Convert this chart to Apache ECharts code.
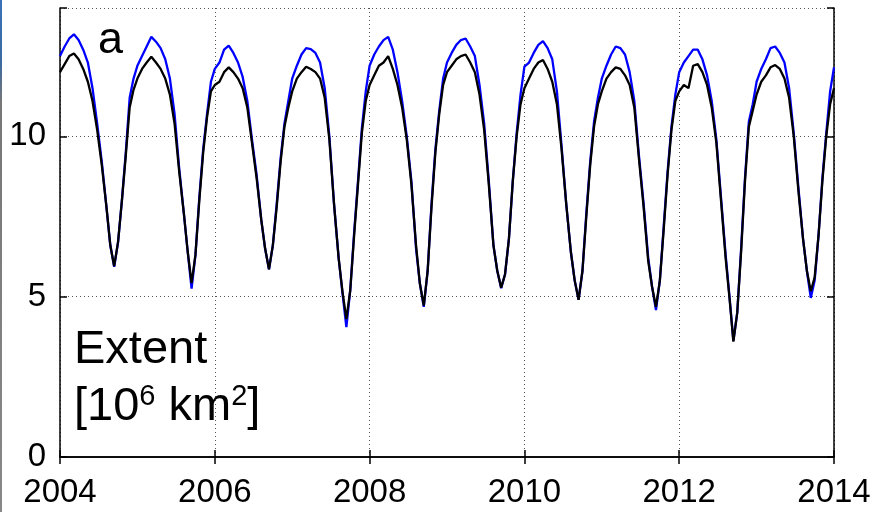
<!DOCTYPE html>
<html>
<head>
<meta charset="utf-8">
<script src="https://cdn.jsdelivr.net/npm/echarts@6/dist/echarts.min.js"></script>
<style>
html,body{margin:0;padding:0;background:#fff;}
#chart{width:880px;height:512px;}
</style>
</head>
<body>
<div id="chart"></div>
<script>
// Sample phase within each year (fraction of year)
const phases = [0, .06, .12, .18, .24, .30, .36, .42, .48, .54, .60, .65, .70, .75, .80, .85, .90, .95];
const years = [2004, 2005, 2006, 2007, 2008, 2009, 2010, 2011, 2012, 2013];
const xTicks = [2004, 2006, 2008, 2010, 2012, 2014];
const yTicks = [0, 5, 10];

// Blue series (per year, values at phases)
const blueByYear = [
  [12.5, 12.8, 13.05, 13.18, 13.0, 12.7, 12.3, 11.5, 10.4, 9.2, 7.8, 6.6, 5.93, 6.7, 8.0, 9.5, 11.2, 11.8],
  [12.2, 12.5, 12.8, 13.1, 12.95, 12.75, 12.4, 11.8, 10.7, 9.0, 7.6, 6.4, 5.25, 6.3, 8.1, 9.6, 10.7, 11.7],
  [12.1, 12.3, 12.7, 12.83, 12.6, 12.3, 11.85, 11.1, 9.9, 8.8, 7.4, 6.5, 5.85, 6.6, 7.9, 9.3, 10.4, 11.1],
  [11.8, 12.2, 12.55, 12.75, 12.72, 12.6, 12.3, 11.5, 10.0, 7.9, 6.2, 5.1, 4.05, 5.2, 7.0, 8.6, 10.25, 11.4],
  [12.2, 12.55, 12.8, 13.0, 13.1, 12.7, 12.0, 11.1, 10.0, 8.6, 6.5, 5.4, 4.68, 5.8, 7.9, 9.6, 10.8, 11.8],
  [12.3, 12.6, 12.85, 13.0, 13.05, 12.8, 12.5, 11.6, 10.4, 8.6, 6.6, 5.8, 5.26, 5.7, 6.8, 8.6, 10.1, 11.3],
  [12.17, 12.3, 12.6, 12.85, 12.97, 12.75, 12.4, 11.4, 9.7, 7.9, 6.4, 5.5, 4.9, 5.8, 7.6, 9.2, 10.46, 11.2],
  [11.8, 12.2, 12.55, 12.8, 12.75, 12.55, 12.0, 11.1, 9.4, 7.9, 6.2, 5.3, 4.58, 5.5, 7.2, 8.9, 10.3, 11.3],
  [12.0, 12.3, 12.5, 12.7, 12.7, 12.4, 11.9, 11.1, 9.9, 8.1, 6.3, 5.0, 3.62, 4.5, 6.5, 8.7, 10.46, 11.0],
  [11.7, 12.1, 12.4, 12.75, 12.8, 12.6, 12.3, 11.5, 10.1, 8.4, 6.8, 5.8, 4.96, 5.5, 6.9, 8.7, 10.1, 11.4]
];
const blueEnd = 12.15; // value at 2014.0

// Black series (per year, values at phases)
const blackByYear = [
  [12.0, 12.25, 12.5, 12.58, 12.4, 12.1, 11.7, 11.1, 10.2, 9.1, 7.8, 6.6, 5.95, 6.7, 8.0, 9.4, 10.9, 11.45],
  [11.8, 12.1, 12.3, 12.48, 12.3, 12.1, 11.8, 11.3, 10.4, 8.9, 7.6, 6.4, 5.42, 6.3, 8.0, 9.5, 10.6, 11.4],
  [11.6, 11.7, 12.0, 12.15, 12.0, 11.8, 11.5, 10.9, 9.8, 8.7, 7.4, 6.5, 5.85, 6.6, 7.8, 9.2, 10.3, 10.9],
  [11.4, 11.8, 12.0, 12.17, 12.1, 12.0, 11.8, 11.2, 9.9, 7.9, 6.2, 5.15, 4.3, 5.2, 6.9, 8.5, 10.1, 11.1],
  [11.6, 11.9, 12.2, 12.3, 12.5, 12.1, 11.6, 10.9, 9.9, 8.5, 6.6, 5.4, 4.72, 5.8, 7.8, 9.5, 10.7, 11.6],
  [12.0, 12.2, 12.4, 12.5, 12.55, 12.3, 12.0, 11.3, 10.2, 8.5, 6.6, 5.8, 5.28, 5.7, 6.8, 8.6, 10.0, 11.0],
  [11.5, 11.8, 12.1, 12.3, 12.38, 12.1, 11.7, 11.0, 9.6, 7.9, 6.4, 5.5, 4.9, 5.8, 7.5, 9.1, 10.3, 11.0],
  [11.4, 11.8, 12.0, 12.15, 12.1, 11.9, 11.6, 10.9, 9.3, 7.8, 6.1, 5.3, 4.68, 5.5, 7.1, 8.8, 10.2, 11.1],
  [11.4, 11.6, 11.5, 12.2, 12.25, 12.0, 11.6, 10.9, 9.8, 8.0, 6.2, 4.95, 3.6, 4.5, 6.4, 8.6, 10.3, 10.8],
  [11.3, 11.7, 11.9, 12.15, 12.22, 12.1, 11.8, 11.2, 10.0, 8.3, 6.8, 5.8, 5.17, 5.6, 6.9, 8.6, 10.0, 11.0]
];
const blackEnd = 11.5;

function build(byYear, endVal) {
  const out = [];
  years.forEach((y, i) => {
    phases.forEach((p, j) => out.push([y + p, byYear[i][j]]));
  });
  out.push([2014, endVal]);
  return out;
}

const chart = echarts.init(document.getElementById('chart'), null, {renderer: 'canvas'});
const FONT = '"Liberation Sans", Arial, sans-serif';
const frame = {show: true, lineStyle: {color: '#000', width: 1.5}};
const tick = {show: true, inside: true, length: 7, lineStyle: {color: '#000', width: 1.5}};
const grid = {show: true, lineStyle: {color: '#555', width: 1, type: [1, 3]}};

chart.setOption({
  backgroundColor: '#fff',
  animation: false,
  grid: {left: 60, top: 8, right: 46, bottom: 55, containLabel: false},
  xAxis: [
    {type: 'value', min: 2004, max: 2014, interval: 2, position: 'bottom',
     axisLine: frame, axisTick: tick, splitLine: grid,
     axisLabel: {color: '#000', fontSize: 33, fontFamily: FONT, margin: 19,
                 formatter: v => xTicks.includes(v) ? String(v) : ''}},
    {type: 'value', min: 2004, max: 2014, interval: 2, position: 'top',
     axisLine: frame, axisTick: tick, splitLine: {show: false}, axisLabel: {show: false}}
  ],
  yAxis: [
    {type: 'value', min: 0, max: 14, interval: 5, position: 'left',
     axisLine: frame, axisTick: tick, splitLine: grid,
     axisLabel: {color: '#000', fontSize: 33, fontFamily: FONT, margin: 14,
                 formatter: v => yTicks.includes(v) ? String(v) : ''}},
    {type: 'value', min: 0, max: 14, interval: 5, position: 'right',
     axisLine: frame, axisTick: tick, splitLine: {show: false}, axisLabel: {show: false}}
  ],
  series: [
    {type: 'line', data: build(blueByYear, blueEnd), showSymbol: false, symbol: 'none',
     lineStyle: {color: '#0000ff', width: 2.3}, z: 2},
    {type: 'line', data: build(blackByYear, blackEnd), showSymbol: false, symbol: 'none',
     lineStyle: {color: '#000000', width: 2.3}, z: 3}
  ],
  graphic: [
    {type: 'rect', left: 0, top: 0, shape: {width: 2, height: 512},
     style: {fill: new echarts.graphic.LinearGradient(0, 0, 0, 1, [
       {offset: 0, color: '#3a72b8'}, {offset: 0.12, color: '#3a6aa0'},
       {offset: 0.2, color: '#777'}, {offset: 1, color: '#888'}])}, silent: true},
    {type: 'text', x: 98, y: 41, z: 10,
     style: {text: 'a', font: '45px ' + FONT, fill: '#000', textVerticalAlign: 'middle'}},
    {type: 'text', x: 74, y: 350, z: 10,
     style: {text: 'Extent', font: '47px ' + FONT, fill: '#000', textVerticalAlign: 'middle'}},
    {type: 'text', x: 74, y: 407, z: 10,
     style: {text: '{n|[10}{s|6}{n| km}{s|2}{n|]}', fill: '#000', textVerticalAlign: 'middle',
       rich: {
         n: {fontSize: 47, fontFamily: FONT, lineHeight: 50, color: '#000'},
         s: {fontSize: 29, fontFamily: FONT, lineHeight: 29, verticalAlign: 'top', color: '#000'}
       }}}
  ]
});
</script>
</body>
</html>
